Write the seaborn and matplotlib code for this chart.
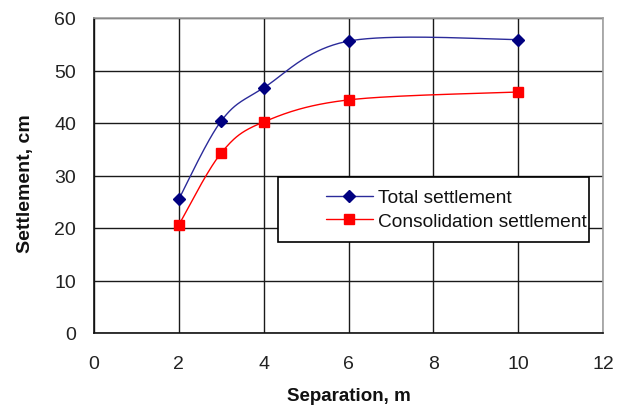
import numpy as np
import pandas as pd
import matplotlib
matplotlib.use("Agg")
import matplotlib.pyplot as plt
from matplotlib.lines import Line2D
from matplotlib.patches import Rectangle
import seaborn as sns

separation = [2, 3, 4, 6, 10]
total_settlement = [25.5, 40.4, 46.7, 55.6, 55.9]
consolidation_settlement = [20.6, 34.3, 40.2, 44.4, 45.9]
series_names = ["Total settlement", "Consolidation settlement"]
x_ticks = [0, 2, 4, 6, 8, 10, 12]
y_ticks = [0, 10, 20, 30, 40, 50, 60]

sns.set_theme(style="white")
plt.rcParams['font.family'] = ['Liberation Sans', 'DejaVu Sans']


def smooth(xs, ys, n=40):
    """Excel-style smoothed line: cubic Bezier through the points."""
    P = np.column_stack([xs, ys]).astype(float)
    m = len(P)
    out = []
    for i in range(m - 1):
        p0 = P[i - 1] if i > 0 else P[i]
        p1 = P[i]
        p2 = P[i + 1]
        p3 = P[i + 2] if i + 2 < m else P[i + 1]
        c1 = p1 + (p2 - p0) / 6.0
        c2 = p2 - (p3 - p1) / 6.0
        t = np.linspace(0, 1, n)[:, None]
        seg = ((1 - t) ** 3) * p1 + 3 * ((1 - t) ** 2) * t * c1 + 3 * (1 - t) * t ** 2 * c2 + t ** 3 * p2
        out.append(seg if i == 0 else seg[1:])
    return np.vstack(out)


fig = plt.figure(figsize=(6.27, 4.10), dpi=100)
ax = fig.add_axes([94 / 627, 1 - 334 / 410, 509 / 627, 315 / 410])

blue_line = "#2b2b9a"
blue_marker = "#000080"
red = "#ff0000"

for ys, lc, mc, mk, ms in [(total_settlement, blue_line, blue_marker, "D", 6.5),
                           (consolidation_settlement, red, red, "s", 7.5)]:
    curve = smooth(separation, ys)
    dfc = pd.DataFrame({"x": curve[:, 0], "y": curve[:, 1]})
    sns.lineplot(data=dfc, x="x", y="y", ax=ax, color=lc, linewidth=1.0,
                 sort=False, estimator=None, zorder=3)
    dfp = pd.DataFrame({"x": separation, "y": ys})
    ax.plot(dfp["x"], dfp["y"], linestyle="none", marker=mk, markersize=ms,
            color=mc, markeredgecolor=mc, zorder=4)

ax.set_xlim(0, 12)
ax.set_ylim(0, 60)
ax.set_xticks(x_ticks)
ax.set_yticks(y_ticks)
ax.tick_params(axis="both", length=0, labelsize=14, colors="#222222")
ax.tick_params(axis="x", pad=16)
ax.tick_params(axis="y", pad=13)
ax.grid(True, color="#1a1a1a", linewidth=1.0, zorder=0)
ax.set_axisbelow(True)
for side in ["left", "bottom"]:
    ax.spines[side].set_color("#111111")
    ax.spines[side].set_linewidth(1.2)
for side in ["top", "right"]:
    ax.spines[side].set_color("#a0a0a0")
    ax.spines[side].set_linewidth(1.2)

ax.set_xlabel("Separation, m", fontsize=13.5, fontweight="bold", labelpad=11, color="#111111")
ax.set_ylabel("Settlement, cm", fontsize=14, fontweight="bold", color="#111111")
ax.yaxis.set_label_coords((34 - 94) / 509, (334 - 184) / 315)

# legend box
x0 = (278 - 94) / 509
x1 = (589 - 94) / 509
y0 = (334 - 243) / 315
y1 = (334 - 178) / 315
ax.add_patch(Rectangle((x0, y0), x1 - x0, y1 - y0, transform=ax.transAxes,
                       facecolor="white", edgecolor="black", linewidth=1.2, zorder=5))
handles = [
    Line2D([], [], color=blue_line, marker="D", markersize=6, markerfacecolor=blue_marker,
           markeredgecolor=blue_marker, linewidth=1.0),
    Line2D([], [], color=red, marker="s", markersize=7, markerfacecolor=red,
           markeredgecolor=red, linewidth=1.0),
]
leg = ax.legend(handles, series_names, loc="upper left",
                bbox_to_anchor=((326 - 94) / 509, (334 - 190) / 315),
                frameon=False, fontsize=13.8, handlelength=2.45, handletextpad=0.25,
                labelspacing=0.3, borderpad=0.0, borderaxespad=0.0)
leg.set_zorder(6)
for t in leg.get_texts():
    t.set_color("#111111")

fig.savefig("out.png", dpi=100)
